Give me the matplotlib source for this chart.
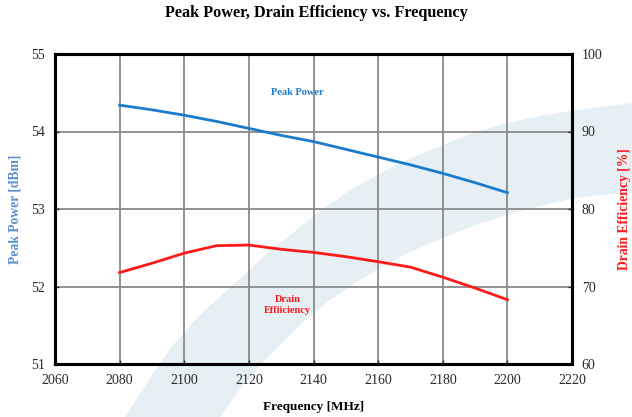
import matplotlib.pyplot as plt
from matplotlib.patches import Polygon

plt.rcParams['font.family'] = ['Liberation Serif', 'DejaVu Serif']

freq = [2080, 2090, 2100, 2110, 2120, 2130, 2140, 2150, 2160, 2170, 2180, 2190, 2200]
peak_power = [54.34, 54.28, 54.21, 54.13, 54.04, 53.95, 53.87, 53.77, 53.67, 53.57, 53.46, 53.34, 53.21]
drain_eff = [71.8, 73.0, 74.3, 75.27, 75.35, 74.8, 74.4, 73.85, 73.2, 72.5, 71.2, 69.8, 68.3]

x_ticks = [2060, 2080, 2100, 2120, 2140, 2160, 2180, 2200, 2220]
left_ticks = [51, 52, 53, 54, 55]
right_ticks = [60, 70, 80, 90, 100]

blue = '#1c7ccc'
red = '#ff1a1a'

fig = plt.figure(figsize=(6.32, 4.17), dpi=100)
fig.patch.set_facecolor('white')

# light blue swoosh watermark behind the plot (pixel outline)
upper = [(125, 417), (150, 378), (173, 345), (200, 315), (233, 285), (262, 258),
         (290, 235), (320, 211), (350, 190), (390, 168), (430, 150), (470, 134),
         (507, 123), (540, 116), (570, 111), (600, 107), (632, 103)]
lower = [(632, 193), (600, 195), (570, 199), (540, 206), (507, 215), (475, 225),
         (443, 238), (410, 252), (380, 268), (355, 283), (330, 300), (308, 318),
         (287, 338), (265, 360), (243, 385), (220, 417)]
pts = [(x / 632, 1 - y / 417) for x, y in upper + lower]
fig.patches.append(Polygon(pts, closed=True, transform=fig.transFigure,
                           facecolor='#e6eff4', edgecolor='none', zorder=0))

ax = fig.add_axes([55 / 632, 53 / 417, 517 / 632, 310 / 417])
ax.set_facecolor('none')
ax.set_zorder(1)
ax.plot(freq, peak_power, color=blue, lw=2.0, zorder=3)
ax.set_xlim(2060, 2220)
ax.set_ylim(51, 55)
ax.set_xticks(x_ticks)
ax.set_yticks(left_ticks)
ax.grid(True, color='#8a8a8a', lw=1.3)
ax.set_axisbelow(True)
for s in ax.spines.values():
    s.set_linewidth(2.2)
    s.set_color('black')
ax.tick_params(direction='in', length=3, width=1, labelsize=10, colors='#2a2a2a', pad=7)

ax2 = ax.twinx()
ax2.plot(freq, drain_eff, color=red, lw=2.0, zorder=3)
ax2.set_ylim(60, 100)
ax2.set_yticks(right_ticks)
ax2.tick_params(direction='in', length=3, width=1, labelsize=10, colors='#2a2a2a', pad=7)
for s in ax2.spines.values():
    s.set_linewidth(2.2)

ax.set_xlabel('Frequency [MHz]', fontsize=9.5, fontweight='bold', labelpad=10)
ax.set_ylabel('Peak Power [dBm]', fontsize=9.8, fontweight='bold', color='#5a8fd0', labelpad=7)
ax2.set_ylabel('Drain Efficiency [%]', fontsize=9.8, fontweight='bold', color=red, labelpad=11)

ax.text(2135, 54.5, 'Peak Power', color=blue, fontsize=7.5, fontweight='bold',
        ha='center', va='center')
ax.text(2132, 51.76, 'Drain\nEffiiciency', color=red, fontsize=7.5, fontweight='bold',
        ha='center', va='center', linespacing=1.2)

fig.suptitle('Peak Power, Drain Efficiency vs. Frequency', fontsize=11.7, fontweight='bold',
             y=1 - 13 / 417, va='center')

fig.savefig('out.png', dpi=100)
